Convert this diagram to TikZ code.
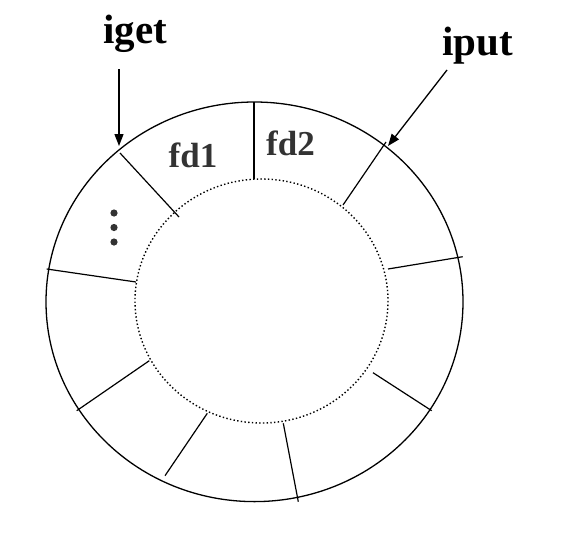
\documentclass[tikz,border=0pt]{standalone}
\usepackage{fontspec}
\setmainfont{Liberation Serif}
\usepackage{xcolor}
\usepackage{tikz}
\usetikzlibrary{arrows.meta}
\definecolor{fdgray}{HTML}{333333}

\begin{document}
\begin{tikzpicture}[x=1pt, y=-1pt,
    ring/.style={line width=1.3pt},
    slot/.style={line width=1.2pt},
    tag/.style={font=\bfseries\fontsize{41}{41}\selectfont, anchor=base, inner sep=0pt},
    fdtag/.style={font=\bfseries\fontsize{35}{35}\selectfont, text=fdgray, anchor=base, inner sep=0pt},
    ptr/.style={line width=1.3pt, -{Triangle[length=12pt, width=9pt]}}]
    \useasboundingbox (0, 0) rectangle (561, 538);
    {
      \draw[ring] (254.5, 301.8) ellipse [x radius = 208.5, y radius = 199.8];
      \draw[line width = 1.4pt, dash pattern = on 1.4pt off 2.3pt] (261.5, 301) ellipse [x radius = 126.5, y radius = 122];
    }
    {
      \draw[slot] (254, 102) -- (254, 179);
      \draw[slot] (120, 153) -- (179, 217);
      \draw[slot] (386, 142) -- (343, 205);
      \draw[slot] (46.7, 269) -- (136, 282);
      \draw[slot] (388, 269) -- (462.7, 256.7);
      \draw[slot] (76.7, 410.7) -- (149.3, 360.7);
      \draw[slot] (373, 372.7) -- (431.7, 410.7);
      \draw[slot] (165, 475.7) -- (207.3, 413.3);
      \draw[slot] (283.3, 423.3) -- (298.3, 501.7);
    }
    \foreach \y in {213, 227.5, 242}
      \fill[fdgray] (114, \y) circle (3.6);
    \node[fdtag] (fd1) at (193, 167) {fd1};
    \node[fdtag] (fd2) at (290.5, 155) {fd2};
    \node[tag] (iget) at (135, 43) {iget};
    \node[tag] (iput) at (477.5, 55) {iput};
    \coordinate (getfrom) at (119, 69);
    \coordinate (getto) at (119, 146);
    \coordinate (putfrom) at (447, 70);
    \coordinate (putto) at (388, 146);
    \draw[ptr] (getfrom) -- (getto);
    \draw[ptr] (putfrom) -- (putto);
  \end{tikzpicture}
\end{document}
